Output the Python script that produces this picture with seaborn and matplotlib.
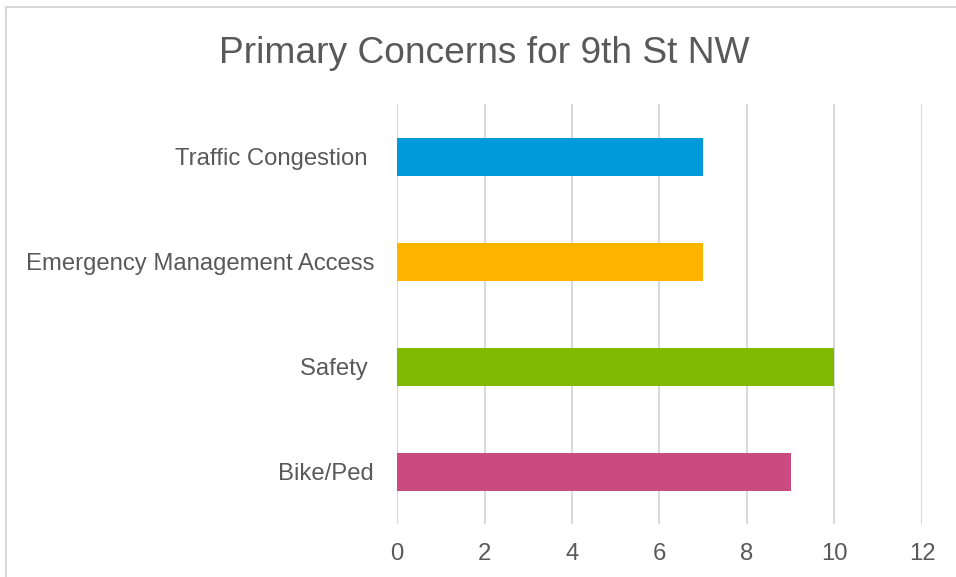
import matplotlib
matplotlib.use("Agg")
import matplotlib.pyplot as plt
import seaborn as sns
import pandas as pd
from matplotlib.lines import Line2D

# data
concerns = ["Traffic Congestion ", "Emergency Management Access", "Safety ", "Bike/Ped"]
counts = [7, 7, 10, 9]
bar_colors = ["#009ADA", "#FFB400", "#7FBA00", "#CA4A82"]
x_ticks = [0, 2, 4, 6, 8, 10, 12]

df = pd.DataFrame({"concern": concerns, "count": counts})

sns.set_theme(style="white")
plt.rcParams["font.family"] = ["Liberation Sans", "DejaVu Sans"]

text_gray = "#595959"
grid_gray = "#D9D9D9"

fig = plt.figure(figsize=(9.56, 5.77), dpi=100)
ax = fig.add_axes([0.4153, 0.0910, 0.5491, 0.7279])

sns.barplot(data=df, x="count", y="concern", hue="concern", palette=bar_colors,
            legend=False, width=0.36, saturation=1, linewidth=0, ax=ax, zorder=3)

ax.set_xlim(0, 12)
ax.set_xticks(x_ticks)
ax.set_ylim(3.5, -0.5)
ax.xaxis.grid(True, color=grid_gray, linewidth=1.5, zorder=0)
ax.yaxis.grid(False)
for s in ax.spines.values():
    s.set_visible(False)
ax.tick_params(axis="both", length=0, labelsize=17.2, labelcolor=text_gray)
ax.tick_params(axis="x", pad=13)
ax.tick_params(axis="y", pad=16.5)
ax.set_xlabel("")
ax.set_ylabel("")

fig.text(0.507, 0.907, "Primary Concerns for 9th St NW", ha="center", va="center",
         fontsize=26.7, color=text_gray)

# chart area border (left and top edges visible)
fig.add_artist(Line2D([5.5 / 956, 5.5 / 956], [0, 1 - 7 / 577], color=grid_gray, linewidth=1.5))
fig.add_artist(Line2D([5.5 / 956, 1], [1 - 7 / 577, 1 - 7 / 577], color=grid_gray, linewidth=1.5))

fig.savefig("out.png", dpi=100, facecolor="white")
